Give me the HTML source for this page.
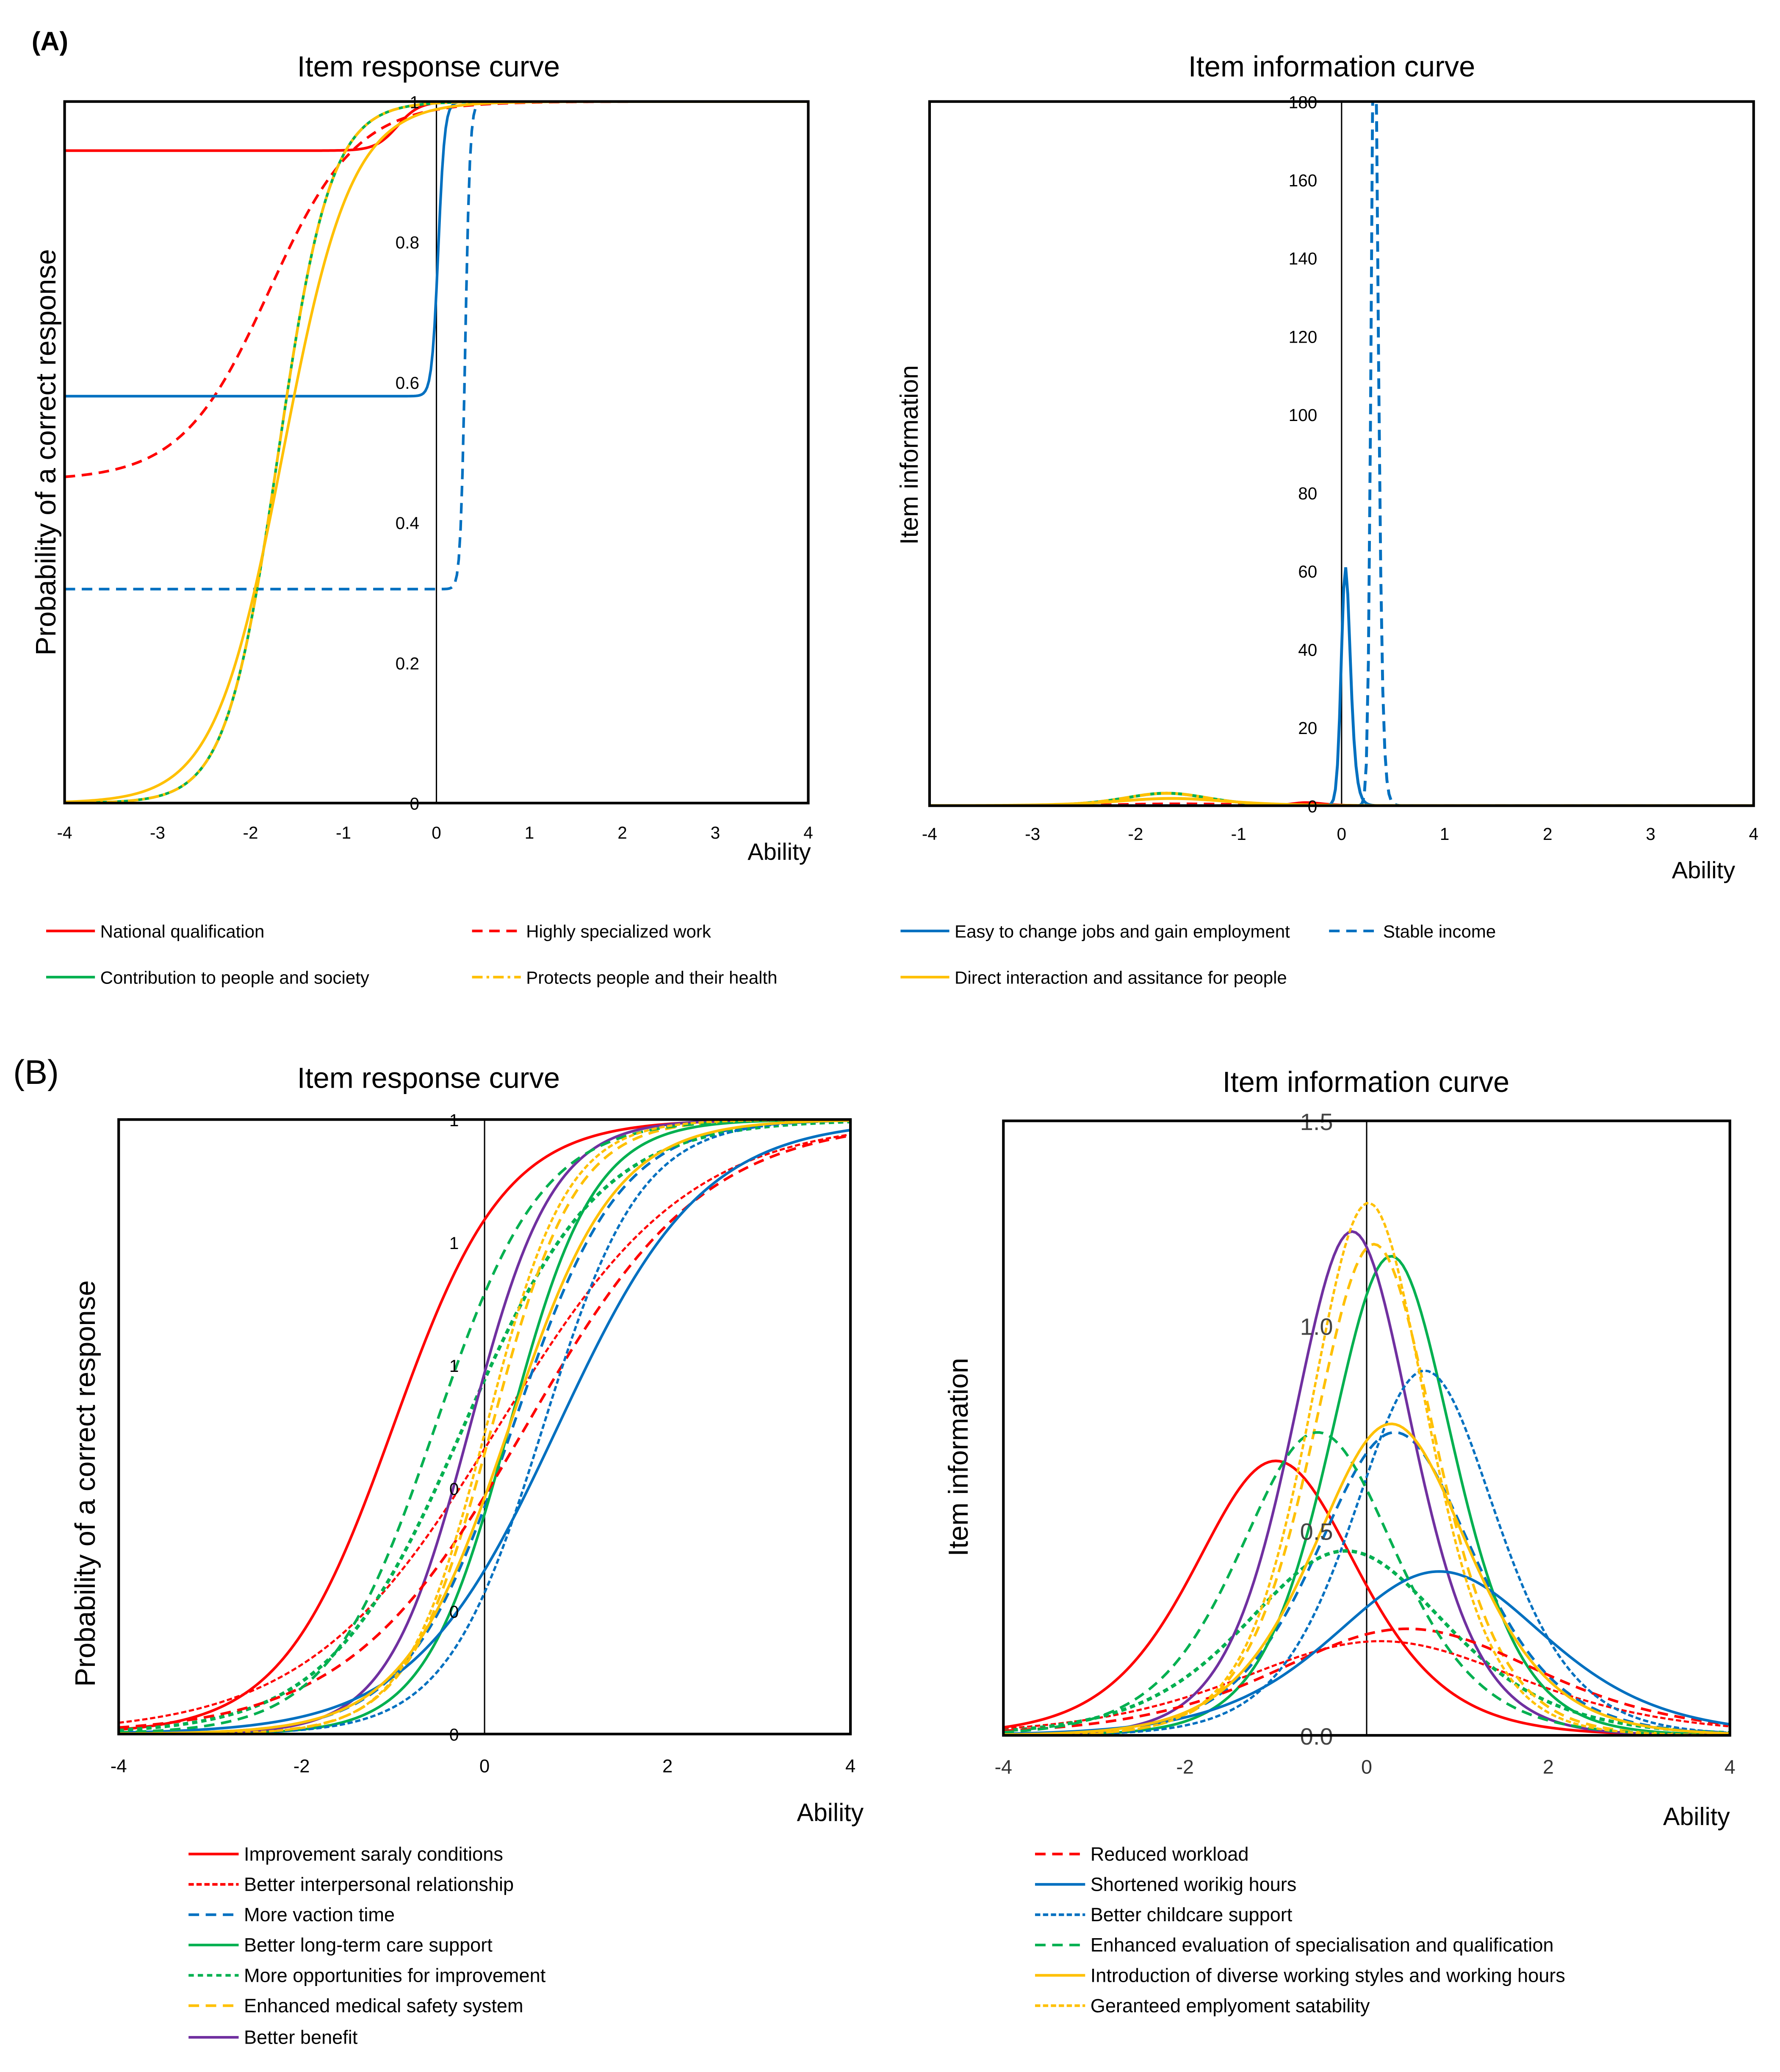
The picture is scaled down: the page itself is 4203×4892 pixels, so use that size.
<!DOCTYPE html>
<html><head><meta charset="utf-8">
<style>
html,body{margin:0;padding:0;background:#fff;}
svg{display:block;font-family:"Liberation Sans",sans-serif;}
</style></head>
<body>
<svg id="fig" width="4203" height="4892" viewBox="0 0 1350 1571.3" preserveAspectRatio="none" xmlns="http://www.w3.org/2000/svg">
<rect x="0" y="0" width="1350" height="1571.3" fill="#fff"/>
<defs>
<clipPath id="clipA1"><rect x="49" y="77" width="564" height="532"/></clipPath>
<clipPath id="clipA2"><rect x="705" y="77" width="625" height="534"/></clipPath>
<clipPath id="clipB1"><rect x="90" y="849" width="555" height="466"/></clipPath>
<clipPath id="clipB2"><rect x="761" y="850" width="551" height="466"/></clipPath>
</defs>
<text x="24" y="38" font-size="20" font-weight="bold">(A)</text>
<text x="10" y="822" font-size="26">(B)</text>
<g id="root"></g>
</svg>
<script>
// ---- Panel A data (3PL parameters) ----
const namesA = ["National qualification","Highly specialized work","Easy to change jobs and gain employment","Stable income","Contribution to people and society","Protects people and their health","Direct interaction and assitance for people"];
const discA = [5.0, 1.25, 17, 23, 2.1, 2.1, 1.6];
const diffA = [-0.42, -1.8, 0.02, 0.31, -1.7, -1.7, -1.65];
const guessA = [0.93, 0.46, 0.58, 0.305, 0, 0, 0];
const colorA = ["#FF0000","#FF0000","#0070C0","#0070C0","#00B050","#FFC000","#FFC000"];
const dashA = ["","8 5","","8 5","","8 3 2 3",""];
const ticksAxA = [-4,-3,-2,-1,0,1,2,3,4];
const ticksAyL = [0,0.2,0.4,0.6,0.8,1];
const tickLabAyL = ["0","0.2","0.4","0.6","0.8","1"];
const ticksAyR = [0,20,40,60,80,100,120,140,160,180];
// ---- Panel B data (2PL: slope = D*a, difficulty) ----
const namesB = ["Improvement saraly conditions","Better interpersonal relationship","More  vaction time","Better long-term care support","More opportunities for improvement","Enhanced medical safety system","Better benefit","Reduced workload","Shortened worikig hours","Better childcare support","Enhanced evaluation of specialisation and qualification","Introduction of diverse working styles and working hours","Geranteed emplyoment satability"];
const slopeB = [1.637, 0.959, 1.72, 2.163, 1.342, 2.19, 2.218, 1.02, 1.265, 1.887, 1.72, 1.744, 2.28];
const diffB = [-1.0, 0.15, 0.31, 0.27, -0.23, 0.08, -0.16, 0.45, 0.8, 0.64, -0.54, 0.27, 0.02];
const colorB = ["#FF0000","#FF0000","#0070C0","#00B050","#00B050","#FFC000","#7030A0","#FF0000","#0070C0","#0070C0","#00B050","#FFC000","#FFC000"];
const dashB = ["","4 2","8 5","","4 3","8 5","","8 5","","4 2","8 5","","4 2"];
const widthB = [2,1.6,2,2,2.6,2,2,2,2,1.8,2,2,1.8];
const ticksBx = [-4,-2,0,2,4];
const ticksByL = [0,0.2,0.4,0.6,0.8,1];
const tickLabByL = ["0","0","0","1","1","1"];
const ticksByR = [0,0.5,1.0,1.5];
const tickLabByR = ["0.0","0.5","1.0","1.5"];

const NS="http://www.w3.org/2000/svg";
const root=document.getElementById('root');
function mk(tag,attrs,parent){const e=document.createElementNS(NS,tag);for(const k in attrs)e.setAttribute(k,attrs[k]);(parent||root).appendChild(e);return e;}
function txt(s,attrs,parent){const e=mk('text',attrs,parent);e.textContent=s;return e;}
function scale(d0,d1,r0,r1){return v=>r0+(v-d0)/(d1-d0)*(r1-r0);}
function p3(t,a,b,c){return c+(1-c)/(1+Math.exp(-1.7*a*(t-b)));}
function info3(t,a,b,c){const P=p3(t,a,b,c),Q=1-P;const D=1.7*a;return D*D*(Q/P)*Math.pow((P-c)/(1-c),2);}
function p2(t,s,b){return 1/(1+Math.exp(-s*(t-b)));}
function info2(t,s,b){const P=p2(t,s,b);return s*s*P*(1-P);}
function pathFrom(fn,sx,sy,step){let d="";for(let t=-4;t<=4.0001;t+=step){const v=fn(t);d+=(d?"L":"M")+sx(t).toFixed(2)+","+sy(v).toFixed(2);}return d;}

function frame(x0,y0,x1,y1,name){
  const g=mk('g',{});
  
  
  mk('rect',{x:x0,y:y0,width:x1-x0,height:y1-y0,fill:'none',stroke:'#000','stroke-width':2},g);
  return g;
}

// ================= Panel A left =================
(function(){
  const sx=scale(-4,4,49,613), sy=scale(0,1,609,77);
  const g=mk('g',{});
  
  
  const t=txt('Item response curve',{x:325,y:58,'font-size':22,'text-anchor':'middle'},g);
  
  
  mk('line',{x1:sx(0),y1:77,x2:sx(0),y2:609,stroke:'#000','stroke-width':1},g);
  const cg=mk('g',{'clip-path':'url(#clipA1)'},g);
  for(let i=0;i<namesA.length;i++){
    const p=mk('path',{d:pathFrom(v=>p3(v,discA[i],diffA[i],guessA[i]),sx,sy,0.02),fill:'none',stroke:colorA[i],'stroke-width':2,'stroke-dasharray':dashA[i]},cg);
    
    
  }
  frame(49,77,613,609,'a-response');
  ticksAxA.forEach(v=>{const e=txt(String(v),{x:sx(v),y:636,'font-size':13,'text-anchor':'middle'},g);
    
    });
  ticksAyL.forEach((v,i)=>{const e=txt(tickLabAyL[i],{x:318,y:sy(v)+5,'font-size':13,'text-anchor':'end'},g);
    
    });
  const xa=txt('Ability',{x:615,y:652,'font-size':18,'text-anchor':'end'},g);
  
  
  const ya=txt('Probability of a correct  response',{x:0,y:0,'font-size':21.5,'text-anchor':'middle',transform:'translate(42,343) rotate(-90)'},g);
  
  
})();

// ================= Panel A right =================
(function(){
  const sx=scale(-4,4,705,1330), sy=scale(0,180,611,77);
  const g=mk('g',{});
  
  
  const t=txt('Item information curve',{x:1010,y:58,'font-size':22,'text-anchor':'middle'},g);
  
  
  mk('line',{x1:sx(0),y1:77,x2:sx(0),y2:611,stroke:'#000','stroke-width':1},g);
  const cg=mk('g',{'clip-path':'url(#clipA2)'},g);
  for(let i=0;i<namesA.length;i++){
    const p=mk('path',{d:pathFrom(v=>info3(v,discA[i],diffA[i],guessA[i]),sx,sy,0.02),fill:'none',stroke:colorA[i],'stroke-width':2.2,'stroke-dasharray':dashA[i]},cg);
    
    
  }
  frame(705,77,1330,611,'a-information');
  ticksAxA.forEach(v=>{const e=txt(String(v),{x:sx(v),y:637,'font-size':13,'text-anchor':'middle'},g);
    
    });
  ticksAyR.forEach(v=>{const e=txt(String(v),{x:999,y:sy(v)+5,'font-size':13,'text-anchor':'end'},g);
    
    });
  const xa=txt('Ability',{x:1316,y:666,'font-size':18,'text-anchor':'end'},g);
  
  
  const ya=txt('Item information',{x:0,y:0,'font-size':19,'text-anchor':'middle',transform:'translate(696,345) rotate(-90)'},g);
  
  
})();

// ================= Panel A legend =================
(function(){
  const g=mk('g',{});
  
  
  const xs=[35,358,683,1008,35,358,683], ys=[706,706,706,706,741,741,741];
  for(let i=0;i<namesA.length;i++){
    const e=mk('g',{},g);
    
    
    mk('line',{x1:xs[i],y1:ys[i],x2:xs[i]+37,y2:ys[i],stroke:colorA[i],'stroke-width':2,'stroke-dasharray':dashA[i]},e);
    txt(namesA[i],{x:xs[i]+41,y:ys[i]+5,'font-size':13.5},e);
  }
})();

// ================= Panel B left =================
(function(){
  const sx=scale(-4,4,90,645), sy=scale(0,1,1315,849);
  const g=mk('g',{});
  
  
  const t=txt('Item response curve',{x:325,y:825,'font-size':22,'text-anchor':'middle'},g);
  
  
  mk('line',{x1:sx(0),y1:849,x2:sx(0),y2:1315,stroke:'#000','stroke-width':1},g);
  const cg=mk('g',{'clip-path':'url(#clipB1)'},g);
  for(let i=0;i<namesB.length;i++){
    const p=mk('path',{d:pathFrom(v=>p2(v,slopeB[i],diffB[i]),sx,sy,0.04),fill:'none',stroke:colorB[i],'stroke-width':widthB[i],'stroke-dasharray':dashB[i]},cg);
    
    
  }
  frame(90,849,645,1315,'b-response');
  ticksBx.forEach(v=>{const e=txt(String(v),{x:sx(v),y:1344,'font-size':14,'text-anchor':'middle'},g);
    
    });
  ticksByL.forEach((v,i)=>{const e=txt(tickLabByL[i],{x:348,y:sy(v)+5,'font-size':13,'text-anchor':'end'},g);
    
    });
  const xa=txt('Ability',{x:655,y:1381,'font-size':19,'text-anchor':'end'},g);
  
  
  const ya=txt('Probability of    a correct  response',{x:0,y:0,'font-size':21.5,'text-anchor':'middle',transform:'translate(72,1125) rotate(-90)'},g);
  
  
})();

// ================= Panel B right =================
(function(){
  const sx=scale(-4,4,761,1312), sy=scale(0,1.5,1316,850);
  const g=mk('g',{});
  
  
  const t=txt('Item information curve',{x:1036,y:828,'font-size':22,'text-anchor':'middle'},g);
  
  
  mk('line',{x1:sx(0),y1:850,x2:sx(0),y2:1316,stroke:'#000','stroke-width':1},g);
  const cg=mk('g',{'clip-path':'url(#clipB2)'},g);
  for(let i=0;i<namesB.length;i++){
    const p=mk('path',{d:pathFrom(v=>info2(v,slopeB[i],diffB[i]),sx,sy,0.04),fill:'none',stroke:colorB[i],'stroke-width':widthB[i],'stroke-dasharray':dashB[i]},cg);
    
    
  }
  frame(761,850,1312,1316,'b-information');
  ticksBx.forEach(v=>{const e=txt(String(v),{x:sx(v),y:1345,'font-size':15,'text-anchor':'middle',fill:'#333'},g);
    
    });
  ticksByR.forEach((v,i)=>{const e=txt(tickLabByR[i],{x:1011,y:sy(v)+7,'font-size':18,'text-anchor':'end',fill:'#444'},g);
    
    });
  const xa=txt('Ability',{x:1312,y:1384,'font-size':19,'text-anchor':'end'},g);
  
  
  const ya=txt('Item information',{x:0,y:0,'font-size':21,'text-anchor':'middle',transform:'translate(734,1105) rotate(-90)'},g);
  
  
})();

// ================= Panel B legend =================
(function(){
  const g=mk('g',{});
  
  
  const rows=[1406,1429,1452,1475,1498,1521,1545];
  for(let i=0;i<namesB.length;i++){
    const left=i<7, x=left?143:785, y=rows[left?i:i-7];
    const e=mk('g',{},g);
    
    
    mk('line',{x1:x,y1:y,x2:x+38,y2:y,stroke:colorB[i],'stroke-width':2,'stroke-dasharray':dashB[i]},e);
    txt(namesB[i],{x:x+42,y:y+5,'font-size':14.5},e);
  }
})();
</script>
</body></html>
